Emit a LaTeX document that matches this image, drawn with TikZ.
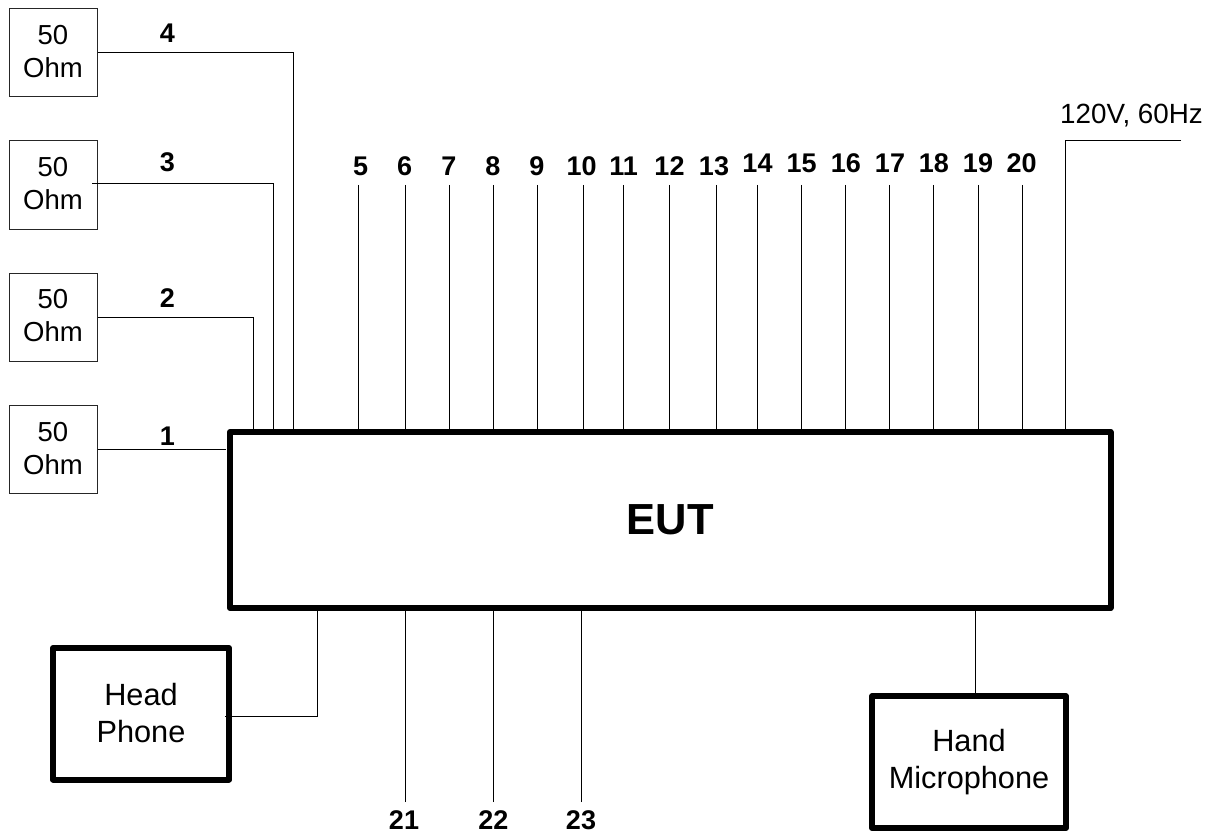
\documentclass[tikz,border=0pt]{standalone}
\usepackage{fontspec}
\setmainfont{Liberation Sans}
\newcommand{\fsz}[2]{\fontsize{#1}{#2}\selectfont}
\newcommand{\ohmtext}{50\\Ohm\rule[-2.7pt]{0pt}{2.7pt}}
\tikzset{
  x=1pt,y=-1pt,
  wire/.style={draw=black,line width=1pt},
  res/.style={draw=black!85,line width=1pt,fill=white,minimum width=88pt,minimum height=88pt,inner sep=0pt,align=center,font=\fsz{27.5}{33}},
  heavybox/.style={draw=black,line width=6pt,line join=round,fill=white,inner sep=0pt,align=center,font=\fsz{30.7}{37}},
  num/.style={font=\bfseries\fsz{27}{27},inner sep=0pt,anchor=base},
}
\begin{document}
\begin{tikzpicture}
\useasboundingbox (0,0) rectangle (1208,832);
\node[res] (r4) at (53,53) {\ohmtext};
\node[res] (r3) at (53,185) {\ohmtext};
\node[res] (r2) at (53,317.2) {\ohmtext};
\node[res] (r1) at (53,449.5) {\ohmtext};
\node[heavybox,minimum width=880.5pt,minimum height=176pt,font=\bfseries\fsz{43.5}{44}] (eut) at (670.25,520) {EUT};
\node[heavybox,minimum width=176pt,minimum height=131.5pt] (hp) at (141,713.75) {Head\\Phone\rule[-2.3pt]{0pt}{2.3pt}};
\node[heavybox,minimum width=194pt,minimum height=131.7pt] (hm) at (969,762.15) {\rule{0pt}{23pt}Hand\\Microphone};
% left wires
\coordinate (w4) at (293,0);
\coordinate (w3) at (273.3,0);
\coordinate (w2) at (253.3,0);
\draw[wire] (r4.east) -| (w4 |- eut.north);
\draw[wire] ([xshift=-5.5pt,yshift=1.7pt]r3.east) -| (w3 |- eut.north);
\draw[wire] (r2.east) -| (w2 |- eut.north);
\draw[wire] (r1.east) -- ([xshift=-1.5pt]r1.east -| eut.west);
\node[num] (n4) at (167.3,43) {4};
\node[num] (n3) at (167.3,171.7) {3};
\node[num] (n2) at (167.3,307.3) {2};
\node[num] (n1) at (167.3,445) {1};
% top wires and labels
\foreach \n/\wx/\lx/\ly in {5/358.7/360.7/175.7,6/405/404.7/175.7,7/449.3/449/175.7,8/493.3/493/175.7,9/537.3/537/175.7,10/583.7/581.7/175.7,11/623.3/623.7/175.7,12/669.7/669.5/175.7,13/716/714/175.7,14/757.7/757.5/172,15/801.7/801.7/172,16/845.7/845.8/172,17/889.7/890/172,18/933.7/933.8/172,19/978/978/172,20/1022/1021.7/172}{
  \coordinate (t\n) at (\wx,185);
  \draw[wire] (t\n) -- (t\n |- eut.north);
  \node[num] (n\n) at (\lx,\ly) {\n};
}
\coordinate (mains) at (1181,141);
\coordinate (wm) at (1065.7,0);
\draw[wire] (mains) -| (wm |- eut.north);
\node[font=\fsz{27.8}{28},inner sep=0pt,anchor=base] (mainsl) at (1131.5,123.3) {120V, 60Hz};
% bottom wires
\draw[wire] ([xshift=-7pt,yshift=-2.25pt]hp.east) -| (317.5,0 |- eut.south);
\foreach \n/\wx/\lx in {21/405.3/404,22/493/493.3,23/581/581}{
  \coordinate (b\n) at (\wx,802);
  \draw[wire] (b\n) -- (b\n |- eut.south);
  \node[num] (n\n) at (\lx,829.5) {\n};
}
\coordinate (wh) at (975.3,0);
\draw[wire] (wh |- hm.north) -- (wh |- eut.south);
\end{tikzpicture}
\end{document}
